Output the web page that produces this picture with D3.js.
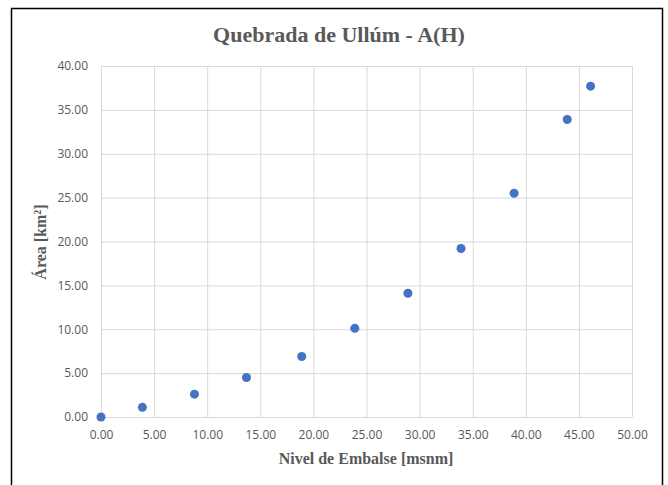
<!DOCTYPE html>
<html>
<head>
<meta charset="utf-8">
<script src="https://cdn.jsdelivr.net/npm/d3@7"></script>
<style>
  body { margin: 0; background: #fff; }
  svg { display: block; }
</style>
</head>
<body>
<svg id="chart" width="668" height="485"></svg>
<script>
// nivel de embalse [msnm] vs area [km2]
const nivel = [0, 3.9, 8.8, 13.7, 18.9, 23.9, 28.9, 33.9, 38.9, 43.9, 46.1]
const area = [0, 1.1, 2.6, 4.5, 6.9, 10.1, 14.1, 19.2, 25.5, 33.9, 37.7]
const xTicks = [0, 5, 10, 15, 20, 25, 30, 35, 40, 45, 50]
const yTicks = [0, 5, 10, 15, 20, 25, 30, 35, 40]

const grey = '#595959'
const gridColor = '#d9d9d9'
const pointColor = '#4472C4'

const svg = d3.select('#chart')
const margin = { left: 101, right: 36, top: 66, bottom: 68 }
const width = 668, height = 485

const x = d3.scaleLinear([0, 50], [margin.left, width - margin.right])
const y = d3.scaleLinear([0, 40], [height - margin.bottom, margin.top])

// frame
svg.append('path')
  .attr('d', `M11.5,${height} V8.5 H662.5 V${height}`)
  .attr('fill', 'none')
  .attr('stroke', '#000')
  .attr('stroke-width', 1.5)

svg.append('text')
  .attr('x', 339).attr('y', 42)
  .attr('text-anchor', 'middle')
  .attr('font-family', '"Liberation Serif", serif')
  .attr('font-weight', 'bold')
  .attr('font-size', 22)
  .attr('fill', grey)
  .text('Quebrada de Ullúm - A(H)')

const fmt = d3.format('.2f')

const xAxis = svg.append('g')
  .attr('transform', `translate(0,${y(0)})`)
  .call(d3.axisBottom(x).tickValues(xTicks).tickFormat(fmt).tickSize(-(y(0) - y(40))).tickPadding(13))
const yAxis = svg.append('g')
  .attr('transform', `translate(${x(0)},0)`)
  .call(d3.axisLeft(y).tickValues(yTicks).tickFormat(fmt).tickSize(-(x(50) - x(0))).tickPadding(13))

;[xAxis, yAxis].forEach(g => {
  g.select('.domain').remove()
  g.selectAll('line').attr('stroke', gridColor).attr('stroke-width', 1)
  g.selectAll('text')
    .attr('fill', grey)
    .attr('font-family', '"Open Sans", sans-serif')
    .attr('font-size', 12)
})

svg.append('text')
  .attr('x', 366).attr('y', 464)
  .attr('text-anchor', 'middle')
  .attr('font-family', '"Liberation Serif", serif')
  .attr('font-weight', 'bold')
  .attr('font-size', 16)
  .attr('fill', grey)
  .text('Nivel de Embalse [msnm]')

const yl = svg.append('text')
  .attr('transform', 'translate(46,242) rotate(-90)')
  .attr('text-anchor', 'middle')
  .attr('font-family', '"Liberation Serif", serif')
  .attr('font-weight', 'bold')
  .attr('font-size', 16)
  .attr('fill', grey)
yl.append('tspan').text('Área [km')
yl.append('tspan').attr('baseline-shift', 'super').attr('font-size', 10).text('2')
yl.append('tspan').text(']')

svg.append('g')
  .selectAll('circle')
  .data(nivel.map((n, i) => [n, area[i]]))
  .join('circle')
  .attr('cx', d => x(d[0]))
  .attr('cy', d => y(d[1]))
  .attr('r', 4.5)
  .attr('fill', pointColor)
</script>
</body>
</html>
